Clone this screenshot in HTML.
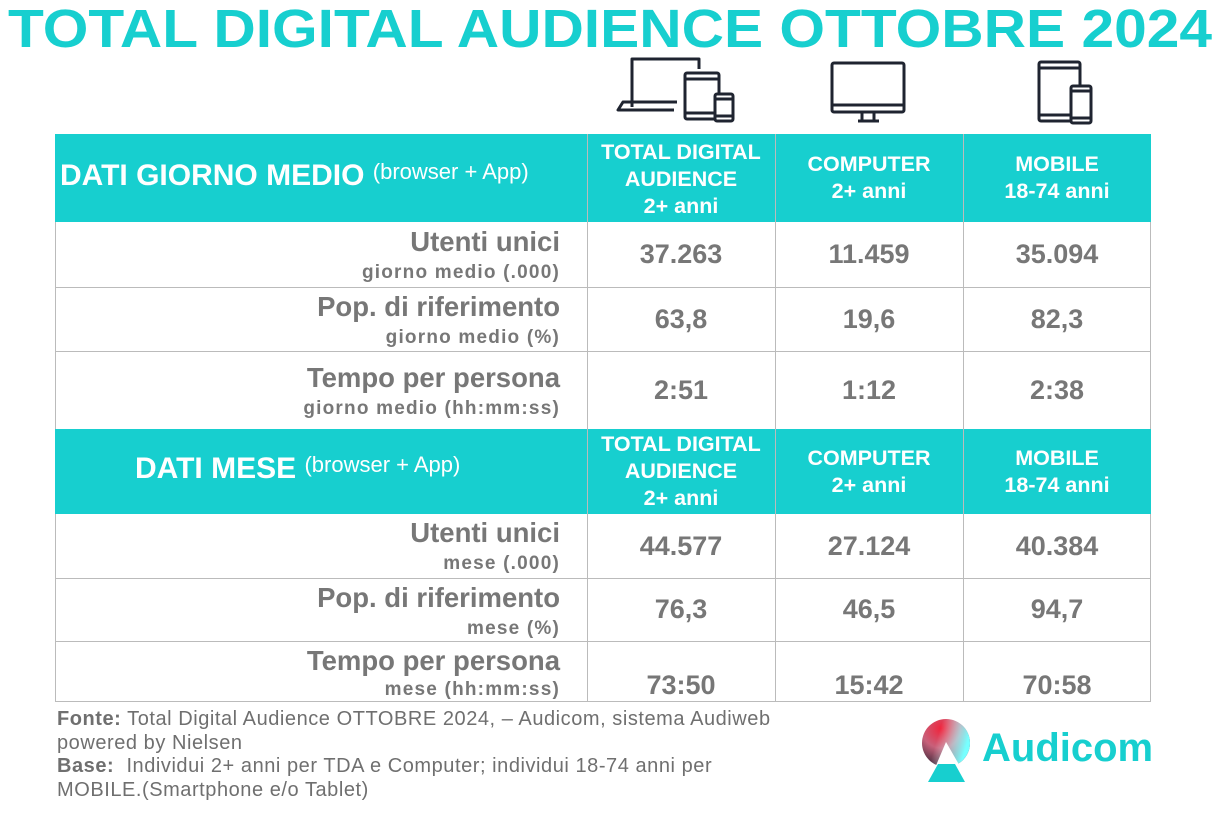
<!DOCTYPE html>
<html><head><meta charset="utf-8"><style>
body{margin:0;width:1226px;height:816px;background:#fff;position:relative;overflow:hidden;font-family:"Liberation Sans",Arial,sans-serif}
.a{position:absolute}
.hd{background:#17cfcf;color:#fff;font-weight:bold}
.cell{position:absolute;box-sizing:border-box;display:flex;align-items:center;justify-content:center;text-align:center}
.h{color:#fff;font-weight:bold;font-size:21.5px;line-height:27px}
.v{color:#777;font-weight:bold;font-size:27px}
.lab{position:absolute;right:0;text-align:right;color:#777;font-weight:bold;white-space:nowrap}
.l1{font-size:27.5px}
.l2{font-size:19px;letter-spacing:1.2px}
.line{position:absolute;background:#bbb}
</style></head><body>
<svg class="a" style="left:0;top:0" width="1226" height="60"><text x="8" y="47" textLength="1204" lengthAdjust="spacingAndGlyphs" font-family="Liberation Sans" font-weight="bold" font-size="54" fill="#17cfcf">TOTAL DIGITAL AUDIENCE OTTOBRE 2024</text></svg>
<svg class="a" style="left:615px;top:52px" width="560" height="75" fill="none" stroke="#1f2430" stroke-width="3" stroke-linejoin="round">
<path d="M17 55V7h67v10M62 50H8l-5 8h56"/><rect x="70" y="21" width="34" height="46" rx="2"/><line x1="70" y1="27" x2="104" y2="27"/><line x1="70" y1="61" x2="100" y2="61"/>
<rect x="100" y="42" width="18" height="27" rx="2" fill="#fff"/><line x1="100" y1="47" x2="118" y2="47"/><line x1="100" y1="64" x2="118" y2="64"/>
<rect x="217" y="11" width="72" height="49" rx="2"/><line x1="217" y1="53" x2="289" y2="53"/><path d="M247 60v9M259 60v9M243 69h21"/>
<rect x="424" y="10" width="41" height="59" rx="2"/><line x1="424" y1="16" x2="465" y2="16"/><line x1="424" y1="63" x2="455" y2="63"/>
<rect x="456" y="34" width="20" height="37" fill="#fff" rx="2"/><line x1="456" y1="39" x2="476" y2="39"/><line x1="456" y1="66" x2="476" y2="66"/>
</svg>
<div class="a hd" style="left:55px;top:134px;width:1096px;height:88px"></div>
<div class="a hd" style="left:55px;top:429px;width:1096px;height:85px"></div>
<div class="a" style="left:60px;top:159px;color:#fff;font-weight:bold;font-size:30px;white-space:nowrap">DATI GIORNO MEDIO <span style="font-weight:normal;font-size:22px;vertical-align:6px">(browser + App)</span></div>
<div class="a" style="left:135px;top:452px;color:#fff;font-weight:bold;font-size:30px;white-space:nowrap">DATI MESE <span style="font-weight:normal;font-size:22px;vertical-align:6px">(browser + App)</span></div>
<div class="cell h" style="left:587px;top:139px;width:188px;height:80px">TOTAL DIGITAL<br>AUDIENCE<br>2+ anni</div>
<div class="cell h" style="left:775px;top:134px;width:188px;height:88px">COMPUTER<br>2+ anni</div>
<div class="cell h" style="left:963px;top:134px;width:188px;height:88px">MOBILE<br>18-74 anni</div>
<div class="cell h" style="left:587px;top:431px;width:188px;height:80px">TOTAL DIGITAL<br>AUDIENCE<br>2+ anni</div>
<div class="cell h" style="left:775px;top:429px;width:188px;height:85px">COMPUTER<br>2+ anni</div>
<div class="cell h" style="left:963px;top:429px;width:188px;height:85px">MOBILE<br>18-74 anni</div>
<div class="line" style="left:55px;top:222px;width:1px;height:207px"></div>
<div class="line" style="left:1150px;top:222px;width:1px;height:207px"></div>
<div class="line" style="left:55px;top:514px;width:1px;height:188px"></div>
<div class="line" style="left:1150px;top:514px;width:1px;height:188px"></div>
<div class="line" style="left:587px;top:134px;width:1px;height:568px"></div>
<div class="line" style="left:775px;top:134px;width:1px;height:568px"></div>
<div class="line" style="left:963px;top:134px;width:1px;height:568px"></div>
<div class="line" style="left:55px;top:287px;width:1096px;height:1px"></div>
<div class="line" style="left:55px;top:351px;width:1096px;height:1px"></div>
<div class="line" style="left:55px;top:578px;width:1096px;height:1px"></div>
<div class="line" style="left:55px;top:641px;width:1096px;height:1px"></div>
<div class="line" style="left:55px;top:701px;width:1096px;height:1px"></div>
<div class="a" style="left:0;width:560px;top:226px;height:60px"><div class="lab l1" style="top:0">Utenti unici</div><div class="lab l2" style="top:36px">giorno medio (.000)</div></div>
<div class="a" style="left:0;width:560px;top:291px;height:60px"><div class="lab l1" style="top:0">Pop. di riferimento</div><div class="lab l2" style="top:36px">giorno medio (%)</div></div>
<div class="a" style="left:0;width:560px;top:362px;height:60px"><div class="lab l1" style="top:0">Tempo per persona</div><div class="lab l2" style="top:36px">giorno medio (hh:mm:ss)</div></div>
<div class="a" style="left:0;width:560px;top:517px;height:60px"><div class="lab l1" style="top:0">Utenti unici</div><div class="lab l2" style="top:36px">mese (.000)</div></div>
<div class="a" style="left:0;width:560px;top:582px;height:60px"><div class="lab l1" style="top:0">Pop. di riferimento</div><div class="lab l2" style="top:36px">mese (%)</div></div>
<div class="a" style="left:0;width:560px;top:645px;height:60px"><div class="lab l1" style="top:0">Tempo per persona</div><div class="lab l2" style="top:34px">mese (hh:mm:ss)</div></div>
<div class="cell v" style="left:587px;top:222px;width:188px;height:65px">37.263</div>
<div class="cell v" style="left:775px;top:222px;width:188px;height:65px">11.459</div>
<div class="cell v" style="left:963px;top:222px;width:188px;height:65px">35.094</div>
<div class="cell v" style="left:587px;top:287px;width:188px;height:64px">63,8</div>
<div class="cell v" style="left:775px;top:287px;width:188px;height:64px">19,6</div>
<div class="cell v" style="left:963px;top:287px;width:188px;height:64px">82,3</div>
<div class="cell v" style="left:587px;top:351px;width:188px;height:78px">2:51</div>
<div class="cell v" style="left:775px;top:351px;width:188px;height:78px">1:12</div>
<div class="cell v" style="left:963px;top:351px;width:188px;height:78px">2:38</div>
<div class="cell v" style="left:587px;top:514px;width:188px;height:64px">44.577</div>
<div class="cell v" style="left:775px;top:514px;width:188px;height:64px">27.124</div>
<div class="cell v" style="left:963px;top:514px;width:188px;height:64px">40.384</div>
<div class="cell v" style="left:587px;top:578px;width:188px;height:63px">76,3</div>
<div class="cell v" style="left:775px;top:578px;width:188px;height:63px">46,5</div>
<div class="cell v" style="left:963px;top:578px;width:188px;height:63px">94,7</div>
<div class="cell v" style="left:587px;top:660px;width:188px;height:50px">73:50</div>
<div class="cell v" style="left:775px;top:660px;width:188px;height:50px">15:42</div>
<div class="cell v" style="left:963px;top:660px;width:188px;height:50px">70:58</div>
<div class="a" style="left:57px;top:708px;width:800px;font-size:20px;letter-spacing:0.55px;line-height:23.5px;color:#6f6f6f;white-space:nowrap"><b>Fonte:</b> Total Digital Audience OTTOBRE 2024, – Audicom, sistema Audiweb<br>powered by Nielsen<br><b>Base:</b>&nbsp; Individui 2+ anni per TDA e Computer; individui 18-74 anni per<br>MOBILE.(Smartphone e/o Tablet)</div>
<svg class="a" style="left:915px;top:712px" width="60" height="75"><defs><radialGradient id="g" cx="0.4" cy="0.2" r="0.9"><stop offset="0" stop-color="#f0243c"/><stop offset="0.45" stop-color="#c8607a"/><stop offset="1" stop-color="#1a1a2a"/></radialGradient><linearGradient id="g2" x1="0" y1="0" x2="1" y2="0.3"><stop offset="0.4" stop-color="#fff" stop-opacity="0"/><stop offset="1" stop-color="#7ff"/></linearGradient></defs>
<circle cx="31" cy="31" r="24" fill="url(#g)"/><circle cx="31" cy="31" r="24" fill="url(#g2)"/><path d="M31 30L14 70h40z" fill="#fff"/><path d="M23 52h17l10 18H13z" fill="#17cfcf"/></svg>
<div class="a" style="left:982px;top:726px;font-size:40px;font-weight:bold;color:#17cfcf">Audicom</div>
</body></html>
